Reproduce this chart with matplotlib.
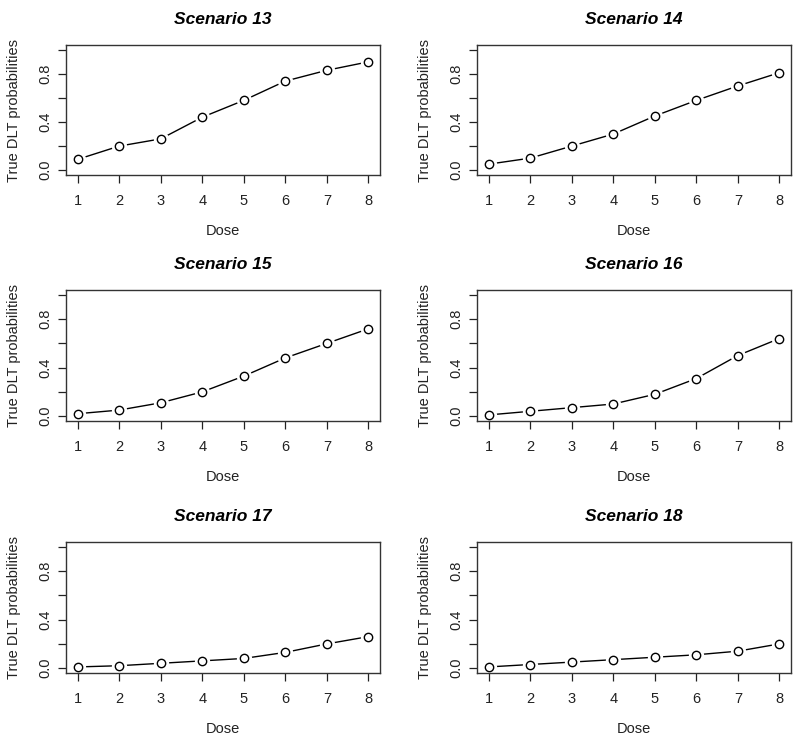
import numpy as np
import matplotlib
matplotlib.use("Agg")
import matplotlib.pyplot as plt

plt.rcParams['font.family'] = ['Liberation Sans', 'DejaVu Sans']

# Doses and true DLT probabilities per scenario
doses = [1, 2, 3, 4, 5, 6, 7, 8]
titles = ["Scenario 13", "Scenario 14", "Scenario 15",
          "Scenario 16", "Scenario 17", "Scenario 18"]
s13 = [0.09, 0.20, 0.26, 0.44, 0.58, 0.74, 0.83, 0.90]
s14 = [0.05, 0.10, 0.20, 0.30, 0.45, 0.58, 0.70, 0.81]
s15 = [0.02, 0.05, 0.11, 0.20, 0.33, 0.48, 0.60, 0.72]
s16 = [0.01, 0.04, 0.07, 0.10, 0.18, 0.31, 0.50, 0.64]
s17 = [0.01, 0.02, 0.04, 0.06, 0.08, 0.13, 0.20, 0.26]
s18 = [0.01, 0.03, 0.05, 0.07, 0.09, 0.11, 0.14, 0.20]
series = [s13, s14, s15, s16, s17, s18]

yticks = [0.0, 0.2, 0.4, 0.6, 0.8, 1.0]
ylabels = ["0.0", "", "0.4", "", "0.8", ""]

W, H = 800, 739
fig = plt.figure(figsize=(W / 100, H / 100), dpi=100)

# panel boxes in pixels (left, top, right, bottom)
lefts = [66, 477]
rights = [380, 791]
tops = [45, 290, 542]
bottoms = [175, 421, 673]

for k, (ttl, p) in enumerate(zip(titles, series)):
    r, c = divmod(k, 2)
    ax = fig.add_axes([lefts[c] / W, 1 - bottoms[r] / H,
                       (rights[c] - lefts[c]) / W, (bottoms[r] - tops[r]) / H])
    ax.plot(doses, p, color="black", lw=1, zorder=1)
    # white halo to mimic R's type="b" gaps
    ax.plot(doses, p, ls="none", marker="o", ms=10, mfc="white", mec="white", zorder=2)
    ax.plot(doses, p, ls="none", marker="o", ms=6, mfc="white", mec="black",
            mew=1.0, zorder=3)
    ax.set_xlim(0.72, 8.28)
    ax.set_ylim(-0.04, 1.04)
    ax.set_xticks(doses)
    ax.set_yticks(yticks)
    ax.set_yticklabels(ylabels, rotation=90, va="center")
    ax.tick_params(direction="out", length=6, width=0.9, labelsize=10.5,
                   colors="#222222", pad=4)
    ax.tick_params(axis="x", pad=8)
    for s in ax.spines.values():
        s.set_linewidth(1.0)
        s.set_color("#333333")
    ax.set_xlabel("Dose", fontsize=10.5, labelpad=11, color="#222222")
    ax.set_ylabel("True DLT probabilities", fontsize=10.5, labelpad=12, color="#222222")
    ax.set_title(ttl, fontsize=12.5, fontweight="bold", fontstyle="italic", pad=15)

fig.savefig("out.png", dpi=100)
